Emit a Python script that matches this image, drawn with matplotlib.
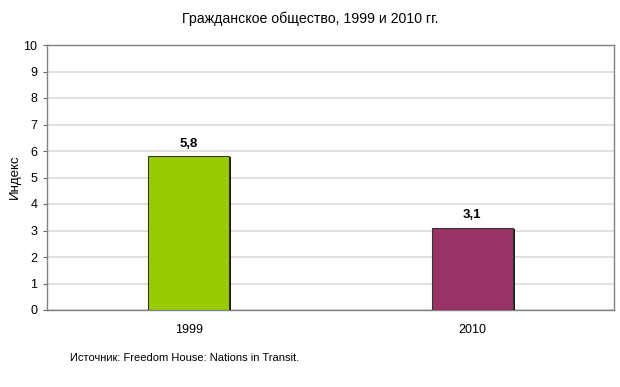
import matplotlib
matplotlib.use("Agg")
import matplotlib.pyplot as plt
import matplotlib.patheffects as pe

plt.rcParams['font.family'] = ['Liberation Sans', 'DejaVu Sans']

categories = ["1999", "2010"]
values = [5.8, 3.1]
labels = ["5,8", "3,1"]
colors = ["#99CC00", "#993366"]
yticks = list(range(0, 11))

fig = plt.figure(figsize=(6.2, 3.87), dpi=100)
ax = fig.add_axes([47/620, 77/387, 567/620, 265/387])

x = list(range(len(categories)))
bars = ax.bar(x, values, width=0.286, color=colors, edgecolor="#333333", linewidth=0.8, zorder=3,
              path_effects=[pe.SimplePatchShadow(offset=(1.5, -0.5), shadow_rgbFace="#000000", alpha=0.9), pe.Normal()])
for xi, v, lab in zip(x, values, labels):
    ax.text(xi, v + 0.25, lab, ha="center", va="bottom", fontsize=9.5, fontweight="bold", color="#000000")

ax.set_xlim(-0.5, 1.5)
ax.set_ylim(0, 10)
ax.set_yticks(yticks)
ax.set_xticks(x)
ax.set_xticklabels(categories)
ax.tick_params(axis="y", labelsize=9, length=3, color="#666666", pad=4)
ax.tick_params(axis="x", labelsize=9, length=0, pad=10)
ax.yaxis.grid(True, color="#dadada", linewidth=1.2, zorder=0)
for s in ax.spines.values():
    s.set_color("#808080")
    s.set_linewidth(1)

fig.text(15/620, 1 - 177/387, "Индекс", rotation=90, ha="center", va="center", fontsize=9.5)
fig.text(0.5, 1 - 19/387, "Гражданское общество, 1999 и 2010 гг.", ha="center", va="center", fontsize=10.2)
fig.text(70/620, 1 - 358/387, "Источник: Freedom House: Nations in Transit.", ha="left", va="center", fontsize=8)

fig.savefig("out.png", dpi=100, facecolor="white")
